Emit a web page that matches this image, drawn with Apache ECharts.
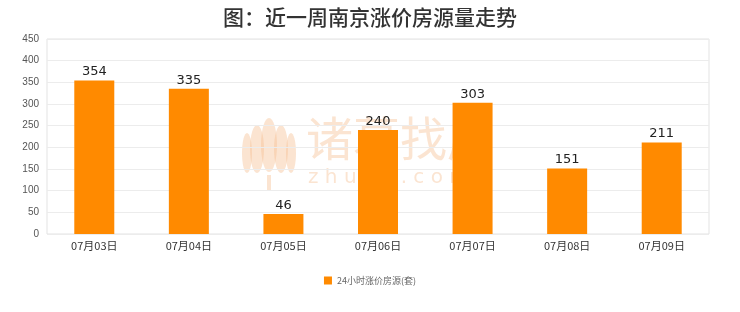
<!DOCTYPE html>
<html><head><meta charset="utf-8">
<script src="https://cdn.jsdelivr.net/npm/echarts@6/dist/echarts.min.js"></script>
<style>html,body{margin:0;padding:0;background:#fff}#c{width:740px;height:312px}</style>
</head><body><div id="c"></div>
<script>
const categories = ['07月03日','07月04日','07月05日','07月06日','07月07日','07月08日','07月09日'];
const values = [354, 335, 46, 240, 303, 151, 211];
const seriesName = '24小时涨价房源(套)';
const titleText = '图：近一周南京涨价房源量走势';

const wm = 'rgba(246,190,145,0.42)';
const chart = echarts.init(document.getElementById('c'));
chart.setOption({
  animation: false,
  backgroundColor: '#fff',
  title: {
    text: titleText, left: 'center', top: 2,
    textStyle: {fontFamily: 'Noto Sans CJK SC', fontSize: 21, fontWeight: 500, color: '#333'}
  },
  graphic: [
    {type: 'text', left: 306, top: 115, z: 0, style: {text: '诸葛找房', fontSize: 47, fontFamily: 'Noto Sans CJK SC', fill: wm}},
    {type: 'text', left: 308, top: 168, z: 0, style: {text: 'z h u g e . c o m', fontSize: 20, fontFamily: 'DejaVu Sans', fill: wm}},
    {type: 'group', left: 242, top: 118, z: 0, children: [
      {type: 'ellipse', shape: {cx: 29, cy: 28, rx: 8, ry: 27}, style: {fill: wm}},
      {type: 'ellipse', shape: {cx: 17, cy: 32, rx: 7, ry: 24}, style: {fill: wm}},
      {type: 'ellipse', shape: {cx: 41, cy: 32, rx: 7, ry: 24}, style: {fill: wm}},
      {type: 'ellipse', shape: {cx: 7, cy: 36, rx: 5, ry: 20}, style: {fill: wm}},
      {type: 'ellipse', shape: {cx: 51, cy: 36, rx: 5, ry: 20}, style: {fill: wm}},
      {type: 'rect', shape: {x: 27, y: 58, width: 4, height: 16}, style: {fill: wm}}
    ]}
  ],
  legend: {
    bottom: 22, left: 'center', itemWidth: 8, itemHeight: 8, icon: 'rect',
    data: [seriesName],
    textStyle: {fontSize: 9, color: '#666', fontFamily: 'Noto Sans CJK SC'}
  },
  grid: {left: 47, right: 31, top: 39, bottom: 78, show: true, borderColor: '#e3e3e3', borderWidth: 1},
  xAxis: {
    type: 'category', data: categories,
    axisLine: {show: false}, axisTick: {show: false},
    axisLabel: {fontSize: 11, color: '#333', margin: 6, fontFamily: 'Noto Sans CJK SC'}
  },
  yAxis: {
    type: 'value', min: 0, max: 450, interval: 50,
    axisLine: {show: false}, axisTick: {show: false},
    axisLabel: {fontSize: 10, color: '#555', margin: 8},
    splitLine: {lineStyle: {color: '#ececec'}}
  },
  series: [{
    name: seriesName, type: 'bar', data: values, barWidth: 40, z: 2,
    itemStyle: {color: '#ff8a00'},
    label: {show: true, position: 'top', fontSize: 13, color: '#222', distance: 2, fontFamily: 'DejaVu Sans'}
  }]
});
</script></body></html>
